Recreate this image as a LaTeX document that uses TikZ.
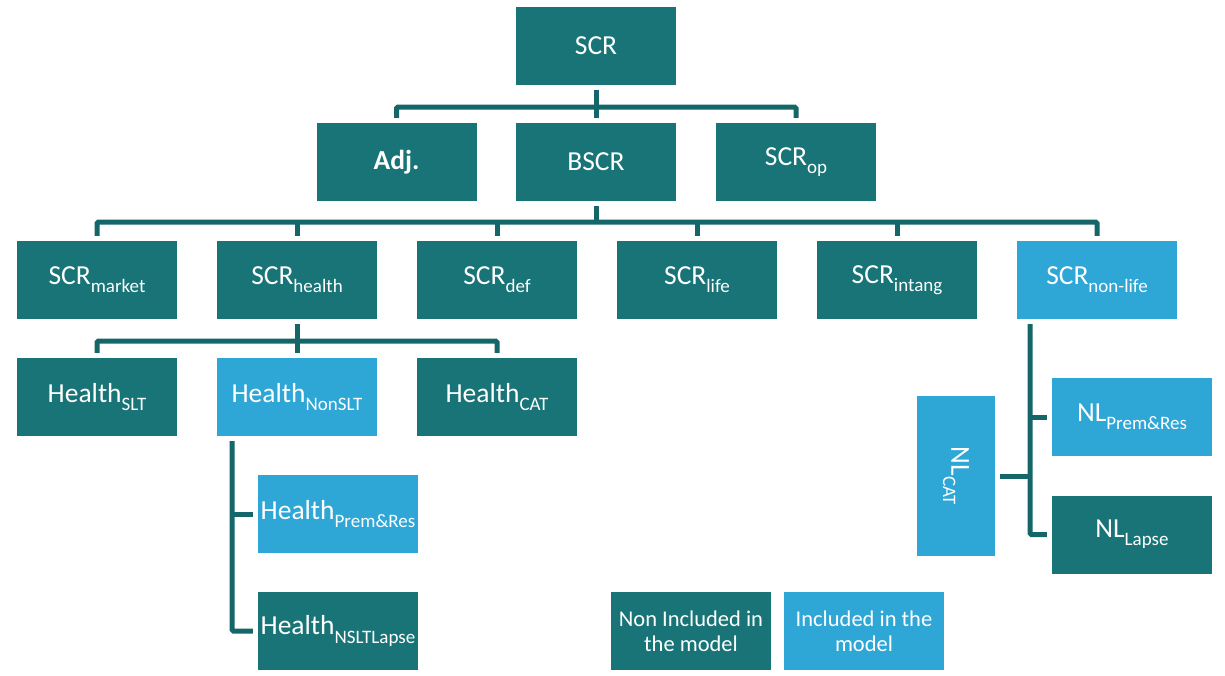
\documentclass[tikz,border=0pt]{standalone}
\usepackage{fontspec}
\setmainfont{Carlito}
\definecolor{darkteal}{RGB}{24,116,119}
\definecolor{lightblue}{RGB}{46,166,214}
\definecolor{linecol}{RGB}{21,102,105}
\newcommand\sbx[1]{\raisebox{-0.3em}{\fontsize{19}{19}\selectfont #1}}
\tikzset{
  box/.style={rectangle, fill=darkteal, text=white, minimum width=160pt, minimum height=78pt, inner sep=0pt, font=\fontsize{27.5}{30}\selectfont},
  inbox/.style={box, fill=lightblue},
  legend/.style={box, font=\fontsize{22.5}{25}\selectfont, align=center},
  conn/.style={draw=linecol, line width=5pt, rounded corners=1.5pt}
}
\begin{document}
\begin{tikzpicture}[x=1pt,y=-1pt]
\useasboundingbox (0,0) rectangle (1225,675);
% level 0
\node[box] (scr) at (596,45.5) {SCR};
% level 1
\node[box] (adj) at (396.5,162) {\textbf{Adj.}};
\node[box] (bscr) at (596,162) {BSCR};
\node[box] (scrop) at (796,162) {SCR\sbx{op}};
% level 2
\node[box] (market) at (97,280) {SCR\sbx{market}};
\node[box] (health) at (297,280) {SCR\sbx{health}};
\node[box] (def) at (497,280) {SCR\sbx{def}};
\node[box] (life) at (697,280) {SCR\sbx{life}};
\node[box] (intang) at (897,280) {SCR\sbx{intang}};
\node[inbox] (nonlife) at (1097,280) {SCR\sbx{non-life}};
% level 3 health
\node[box] (hslt) at (97,397) {Health\sbx{SLT}};
\node[inbox] (hnslt) at (297,397) {Health\sbx{NonSLT}};
\node[box] (hcat) at (497,397) {Health\sbx{CAT}};
% level 4 health nonslt
\node[inbox] (hpr) at (338,514) {Health\sbx{Prem\&Res}};
\node[box] (hlapse) at (338,631) {Health\sbx{NSLTLapse}};
% non-life
\node[inbox, minimum width=78pt, minimum height=160pt] (nlcat) at (956,476) {\rotatebox{-90}{NL\sbx{CAT}}};
\node[inbox] (nlpr) at (1132,417) {NL\sbx{Prem\&Res}};
\node[box] (nllapse) at (1132,534.5) {NL\sbx{Lapse}};
% legend
\node[legend] (lnon) at (691,631) {Non Included in\\the model};
\node[legend, fill=lightblue] (lin) at (864,631) {Included in the\\model};
% connectors level 0-1
\coordinate (b1) at (596,107);
\draw[conn] ([yshift=-5pt]scr.south) -- (b1);
\draw[conn] ([yshift=5pt]adj.north) |- (b1) -| ([yshift=5pt]scrop.north);
\draw[conn] (b1) -- ([yshift=5pt]bscr.north);
% connectors level 1-2
\coordinate (b2) at (596,222);
\draw[conn] ([yshift=-5pt]bscr.south) -- (b2);
\draw[conn] ([yshift=5pt]market.north) |- (b2) -| ([yshift=5pt]nonlife.north);
\foreach \n in {health,def,life,intang}{
  \draw[conn] ([yshift=5pt]\n.north) -- (\n.north |- b2);
}
% connectors level 2-3
\coordinate (b3) at (297,341);
\draw[conn] ([yshift=-5pt]health.south) -- (b3);
\draw[conn] ([yshift=5pt]hslt.north) |- (b3) -| ([yshift=5pt]hcat.north);
\draw[conn] (b3) -- ([yshift=5pt]hnslt.north);
% connectors health nonslt
\coordinate (v4) at (232,441);
\draw[conn] (v4) |- ([xshift=-5pt]hlapse.west);
\draw[conn] (v4 |- hpr.west) -- ([xshift=-5pt]hpr.west);
% connectors non-life
\coordinate (v5) at (1030,324);
\draw[conn] (v5) |- ([xshift=-5pt]nllapse.west);
\draw[conn] (v5 |- nlpr.west) -- ([xshift=-5pt]nlpr.west);
\draw[conn] ([xshift=5pt]nlcat.east) -- (v5 |- nlcat.east);
\end{tikzpicture}
\end{document}
